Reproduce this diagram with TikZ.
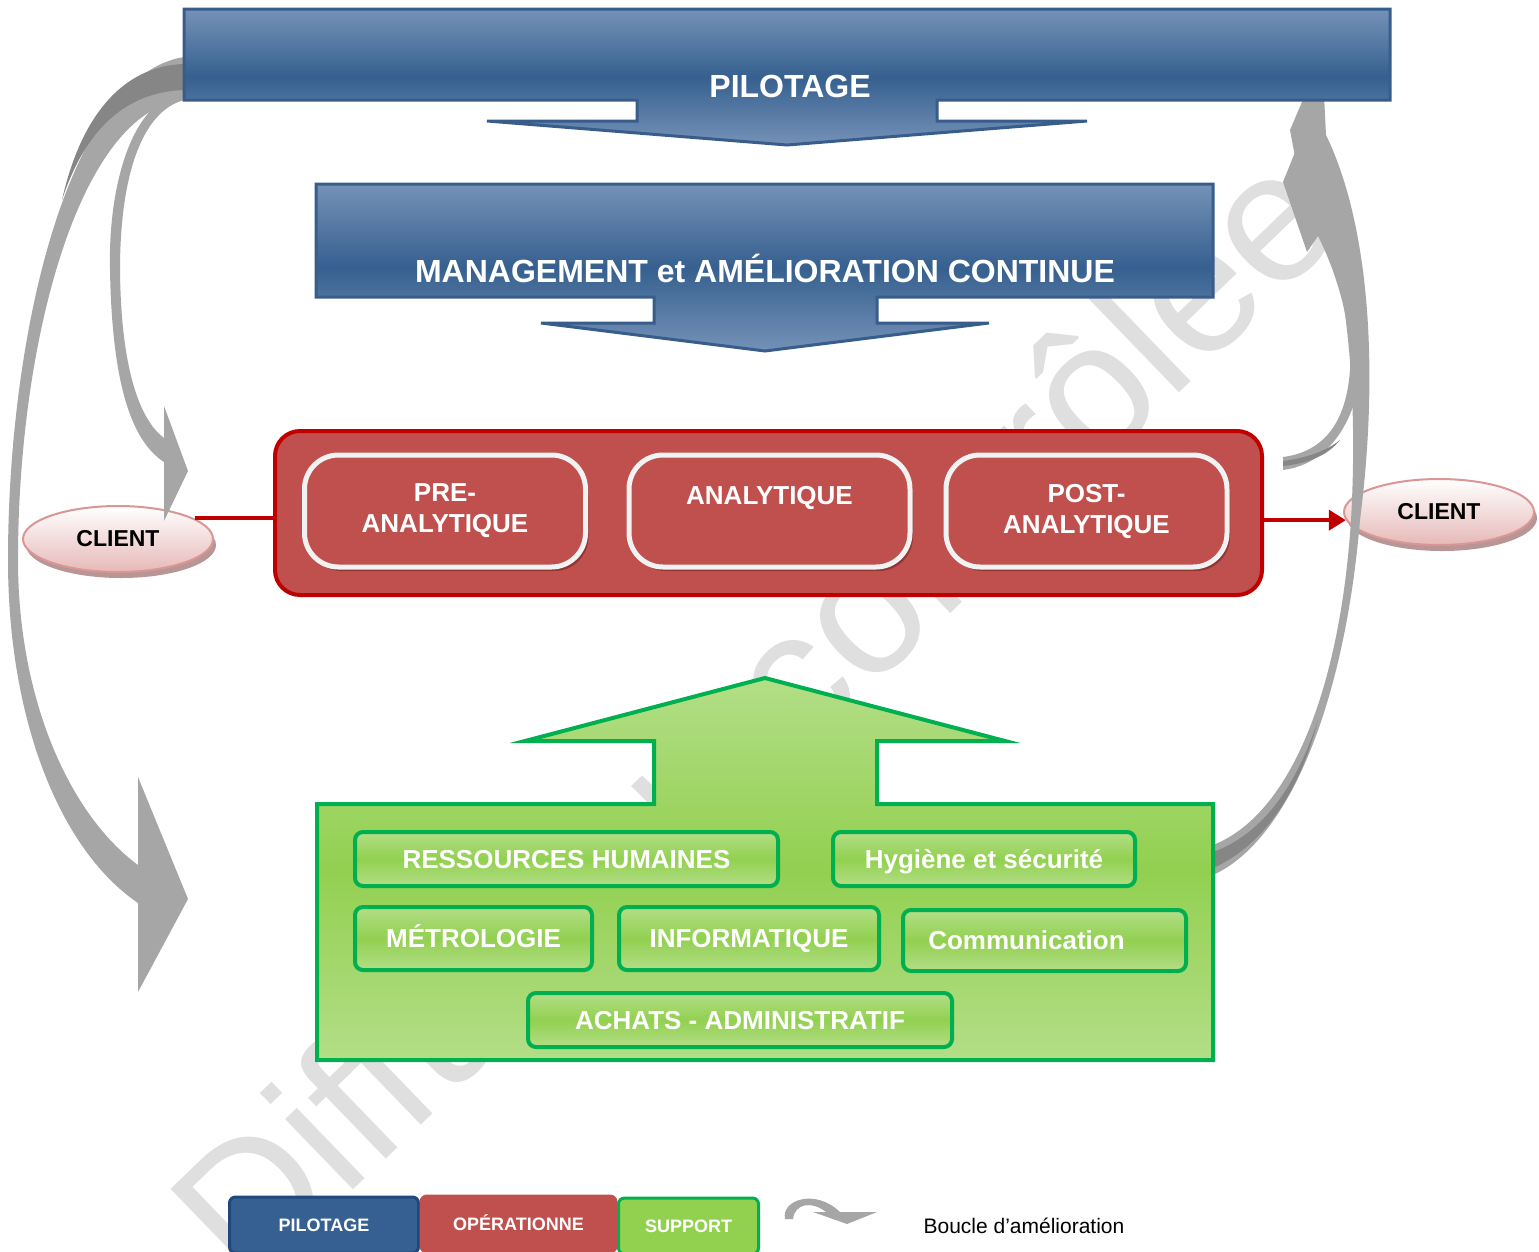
\documentclass[tikz,border=0pt]{standalone}
\usepackage{fontspec}
\setmainfont{Liberation Sans}
\usetikzlibrary{shapes.geometric,shadows,arrows.meta}

\definecolor{blueTop}{HTML}{7592B8}
\definecolor{blueDark}{HTML}{36608F}
\definecolor{blueLine}{HTML}{385D8A}
\definecolor{redFill}{HTML}{C0504D}
\definecolor{redLine}{HTML}{C00000}
\definecolor{redShadow}{HTML}{7F2C2A}
\definecolor{whiteLine}{HTML}{F2F2F2}
\definecolor{greenLight}{HTML}{B3DE87}
\definecolor{greenMid}{HTML}{92D050}
\definecolor{greenLine}{HTML}{00B050}
\definecolor{pinkBottom}{HTML}{E6B9B8}
\definecolor{pinkLine}{HTML}{D99694}
\definecolor{pinkShadow}{HTML}{A87C7C}
\definecolor{loopGray}{HTML}{A6A6A6}
\definecolor{loopDark}{HTML}{868686}
\definecolor{legBlue}{HTML}{376092}
\definecolor{legBlueLine}{HTML}{1F497D}
\definecolor{wmGray}{HTML}{DFDFDF}

\tikzset{
  banner/.style={draw=blueLine, line width=3pt, line join=miter,
    top color=blueTop, bottom color=blueTop, middle color=blueDark},
  bannertext/.style={text=white, text height=23pt, text depth=0pt,
    font=\bfseries\fontsize{32}{38}\selectfont},
  opsbox/.style={rectangle, rounded corners=25pt, draw=redLine, line width=4pt,
    fill=redFill, minimum width=987pt, minimum height=164pt},
  stagebox/.style={rectangle, rounded corners=34pt, draw=whiteLine, line width=5pt,
    fill=redFill, minimum width=281pt, minimum height=112pt, align=center,
    text=white, font=\bfseries\fontsize{26}{31}\selectfont,
    drop shadow={shadow xshift=3pt, shadow yshift=-4pt, fill=redShadow, opacity=.7}},
  client/.style={ellipse, draw=pinkLine, line width=2pt, top color=white,
    bottom color=pinkBottom, minimum width=190pt, minimum height=66pt,
    font=\bfseries\fontsize{23}{28}\selectfont,
    drop shadow={shadow xshift=3pt, shadow yshift=-6pt, fill=pinkShadow, opacity=.8}},
  supportbox/.style={rectangle, rounded corners=8pt, draw=greenLine, line width=4pt,
    top color=greenLight, bottom color=greenLight, middle color=greenMid,
    text=white, text height=18.6pt, text depth=0pt,
    font=\bfseries\fontsize{26}{31}\selectfont},
  redline/.style={draw=redLine, line width=4pt},
  loopgray/.style={fill=loopGray},
  loopdark/.style={fill=loopDark},
  legendbox/.style={rectangle, rounded corners=6pt, line width=3pt, minimum height=56pt,
    text=white, text height=13pt, text depth=0pt, font=\bfseries\fontsize{18}{22}\selectfont},
  watermark/.style={text=wmGray, font=\fontsize{185}{185}\selectfont, rotate=44}
}

\begin{document}
\begin{tikzpicture}[x=1pt,y=-1pt]
    \useasboundingbox (0,0) rectangle (1539,1251);

    % Watermark
    \node[watermark] (wm) at (752,712) {Diffusion contrôlée};

    % Clients
    \node[client] (clientL) at (118,539) {CLIENT};
    \node[client] (clientR) at (1439,512) {CLIENT};

    % Improvement loops
    \fill[loopgray] (184,57) .. controls (70,75) and (8,330) .. (8,560)
        .. controls (8,720) and (60,850) .. (138,903) -- (138,992) -- (188,899)
        -- (138,777) -- (138,865) .. controls (70,815) and (18,700) .. (18,560)
        .. controls (18,340) and (80,110) .. (184,100) -- cycle;
    \fill[loopdark] (184,64) .. controls (120,66) and (80,120) .. (62,200)
        .. controls (85,130) and (125,92) .. (184,90) -- cycle;
    \fill[loopgray] (184,92) .. controls (130,100) and (108,190) .. (110,270)
        .. controls (112,380) and (130,440) .. (164,462) -- (164,521) -- (188,471)
        -- (164,406) -- (164,438) .. controls (140,420) and (121,370) .. (120,270)
        .. controls (120,180) and (140,112) .. (184,100) -- cycle;
    \fill[loopgray] (1213,875) .. controls (1290,840) and (1345,700) .. (1360,520)
        .. controls (1378,380) and (1372,230) .. (1326,135) -- (1322,55) -- (1290,130)
        -- (1296,162) .. controls (1340,220) and (1360,360) .. (1351,520)
        .. controls (1340,690) and (1290,815) .. (1213,845) -- cycle;
    \fill[loopdark] (1213,868) .. controls (1265,845) and (1300,790) .. (1318,720)
        .. controls (1295,790) and (1260,835) .. (1213,852) -- cycle;
    \fill[loopgray] (1283,470) .. controls (1345,462) and (1368,390) .. (1364,320)
        .. controls (1361,275) and (1352,245) .. (1346,228) -- (1352,224) -- (1308,120)
        -- (1283,182) -- (1307,252) -- (1318,236) .. controls (1340,280) and (1352,330) .. (1350,370)
        .. controls (1346,425) and (1322,452) .. (1283,457) -- cycle;
    \fill[loopdark] (1283,466) .. controls (1310,463) and (1328,455) .. (1340,440)
        .. controls (1325,452) and (1305,458) .. (1283,461) -- cycle;

    % Pilotage
    \shadedraw[banner] (184,9) -- (1390,9) -- (1390,100) -- (937,100) -- (937,121)
        -- (1087,121) -- (787,145) -- (487,121) -- (637,121) -- (637,100) -- (184,100) -- cycle;
    \node[bannertext] (pilot) at (790,86) {PILOTAGE};

    % Management
    \shadedraw[banner] (316,184) -- (1213,184) -- (1213,297) -- (877,297) -- (877,323)
        -- (989,323) -- (765,351) -- (541,323) -- (654,323) -- (654,297) -- (316,297) -- cycle;
    \node[bannertext] (manag) at (765,271) {MANAGEMENT et AMÉLIORATION CONTINUE};

    % Operations
    \node[opsbox] (ops) at (768.5,513) {};
    \node[stagebox] (pre) at (445,511) {PRE-\\ANALYTIQUE};
    \node[stagebox] (ana) at (769.5,511) {ANALYTIQUE\\\mbox{}};
    \node[stagebox] (post) at (1086.5,511) {POST-\\ANALYTIQUE};

    \draw[redline] (clientL.15) -- (clientL.15 -| ops.west);
    \draw[redline,-{Triangle[length=17pt,width=20pt]}] (ops.east |- clientR.185) -- (clientR.185);

    % Support
    \shadedraw[draw=greenLine, line width=4pt, top color=greenLight, bottom color=greenLight,
        middle color=greenMid] (317,804) -- (654,804) -- (654,741) -- (525,741) -- (765,678)
        -- (1005,741) -- (877,741) -- (877,804) -- (1213,804) -- (1213,1060) -- (317,1060) -- cycle;
    \node[supportbox, minimum width=423pt, minimum height=54pt] (rh) at (566.5,859) {RESSOURCES HUMAINES};
    \node[supportbox, minimum width=302pt, minimum height=54pt] (hyg) at (984,859) {Hygiène et sécurité};
    \node[supportbox, minimum width=237pt, minimum height=63pt] (metro) at (473.5,938.5) {MÉTROLOGIE};
    \node[supportbox, minimum width=260pt, minimum height=63pt] (info) at (749,938.5) {INFORMATIQUE};
    \node[supportbox, minimum width=283pt, minimum height=61pt] (comm) at (1044.5,940.5) {\mbox{Communication\hspace{36pt}}};
    \node[supportbox, minimum width=424pt, minimum height=54pt] (achats) at (740,1020) {ACHATS - ADMINISTRATIF};

    % Legend
    \node[legendbox, draw=legBlueLine, fill=legBlue, minimum width=189pt] (legPil) at (324,1225) {PILOTAGE};
    \node[legendbox, draw=redFill, fill=redFill, minimum width=195pt] (legOps) at (518.5,1224) {OPÉRATIONNE};
    \node[legendbox, draw=greenLine, fill=greenMid, minimum width=140pt] (legSup) at (688.5,1226) {SUPPORT};
    \fill[loopgray] (785,1219) .. controls (781,1200) and (815,1188) .. (840,1212) -- (877,1212)
        -- (847,1224) -- (813,1212) -- (826,1212) .. controls (812,1201) and (795,1203) .. (793,1219) -- cycle;
    \node[font=\fontsize{21}{25}\selectfont] (legLoop) at (1024,1226) {Boucle d’amélioration};

\end{tikzpicture}
\end{document}
